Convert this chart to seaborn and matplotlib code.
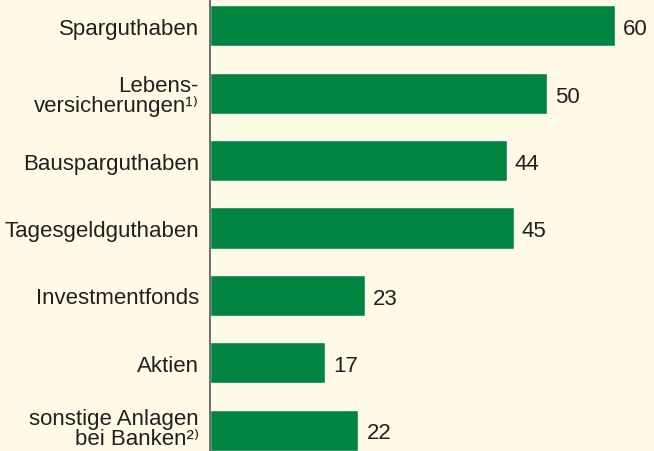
import matplotlib.pyplot as plt
import pandas as pd
import seaborn as sns
from matplotlib.transforms import ScaledTranslation

categories = ["Sparguthaben", "Lebens-\nversicherungen¹⁾", "Bausparguthaben",
              "Tagesgeldguthaben", "Investmentfonds", "Aktien",
              "sonstige Anlagen\nbei Banken²⁾"]
values = [60, 50, 44, 45, 23, 17, 22]

bg = "#FFFBE6"
green = "#00843F"

sns.set_theme(style="white")
plt.rcParams["font.family"] = ["Liberation Sans", "DejaVu Sans"]

df = pd.DataFrame({"cat": categories, "val": values})

fig = plt.figure(figsize=(6.54, 4.52), dpi=100, facecolor=bg)
ax = fig.add_axes([210 / 654, 0, 444 / 654, 1])
ax.set_facecolor(bg)

sns.barplot(data=df, x="val", y="cat", color=green, saturation=1,
            width=0.61, ax=ax)

ax.set_xlim(0, 65.8)
ax.set_ylim(6.31, -0.40)
ax.set_xlabel("")
ax.set_ylabel("")
ax.set_xticks([])
for s in ["top", "right", "bottom"]:
    ax.spines[s].set_visible(False)
ax.spines["left"].set_color("#555555")
ax.spines["left"].set_linewidth(1.2)
ax.tick_params(axis="y", length=0, pad=8, labelsize=16, labelcolor="#231F20")
for lab in ax.get_yticklabels():
    lab.set_linespacing(0.95)

for i, v in enumerate(values):
    ax.text(v + 1.2, i + 0.04, str(v), va="center", ha="left",
            fontsize=16, color="#231F20")

# nudge the last two-line label up a little so it stays inside the figure
last = ax.get_yticklabels()[-1]
last.set_transform(last.get_transform() + ScaledTranslation(0, 4 / 100, fig.dpi_scale_trans))

fig.savefig("out.png", dpi=100, facecolor=bg)
